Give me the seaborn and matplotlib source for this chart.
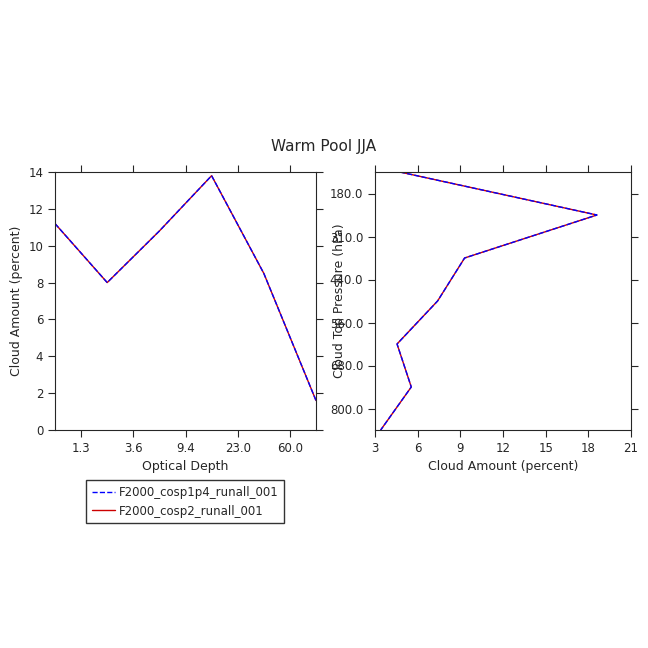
import matplotlib
matplotlib.use('Agg')
import matplotlib.pyplot as plt
import seaborn as sns
import numpy as np

sns.set_style('ticks')
plt.rcParams['font.family'] = ['DejaVu Sans']

tau_labels = ['1.3', '3.6', '9.4', '23.0', '60.0']
tau_amt_a = [11.2, 8.0, 10.8, 13.8, 8.5, 1.6]
tau_amt_b = [11.2, 8.0, 10.8, 13.8, 8.5, 1.6]
p_labels = ['180.0', '310.0', '440.0', '560.0', '680.0', '800.0']
p_amt_a = [4.75, 18.6, 9.3, 7.4, 4.55, 5.55, 3.4]
p_amt_b = [4.75, 18.6, 9.3, 7.4, 4.55, 5.55, 3.4]
names = ['F2000_cosp1p4_runall_001', 'F2000_cosp2_runall_001']

fig = plt.figure(figsize=(6.48, 6.48), dpi=100)
ax1 = fig.add_axes([55/648, 1-430/648, 261/648, 258/648])
ax2 = fig.add_axes([375/648, 1-430/648, 256/648, 258/648])

xi = np.arange(len(tau_amt_a))
sns.lineplot(x=xi, y=tau_amt_b, ax=ax1, color='#cc0000', lw=1, label=names[1])
sns.lineplot(x=xi, y=tau_amt_a, ax=ax1, color='blue', lw=1, ls='--', label=names[0])
ax1.set_xlim(0, 5)
ax1.set_ylim(0, 14)
ax1.set_xticks(np.arange(0.5, 5, 1))
ax1.set_xticklabels(tau_labels)
ax1.set_yticks(range(0, 15, 2))
ax1.set_xlabel('Optical Depth', fontsize=9)
ax1.set_ylabel('Cloud Amount (percent)', fontsize=9)
h, l = ax1.get_legend_handles_labels()
ax1.legend(h[::-1], l[::-1], loc='upper left', bbox_to_anchor=(0.095, -0.17),
           frameon=True, fancybox=False, edgecolor='black', fontsize=8.5,
           handlelength=2.0, handletextpad=0.3, borderpad=0.5)

yi = np.arange(len(p_amt_a))
ax2.plot(p_amt_b, yi, color='#cc0000', lw=1)
ax2.plot(p_amt_a, yi, color='blue', lw=1, ls='--')
ax2.set_xlim(3, 21)
ax2.set_ylim(6, 0)
ax2.set_xticks(range(3, 22, 3))
ax2.set_yticks(np.arange(0.5, 6, 1))
ax2.set_yticklabels(p_labels)
ax2.set_xlabel('Cloud Amount (percent)', fontsize=9)
ax2.set_ylabel('Cloud Top Pressure (hPa)', fontsize=9, labelpad=-12)

for ax in (ax1, ax2):
    ax.tick_params(direction='out', top=True, right=True, labelsize=8.5, length=5)
    for s in ax.spines.values():
        s.set_linewidth(0.8)

fig.text(0.5, 1-147/648, 'Warm Pool JJA', ha='center', va='center', fontsize=11)
fig.savefig('out.png', dpi=100)
